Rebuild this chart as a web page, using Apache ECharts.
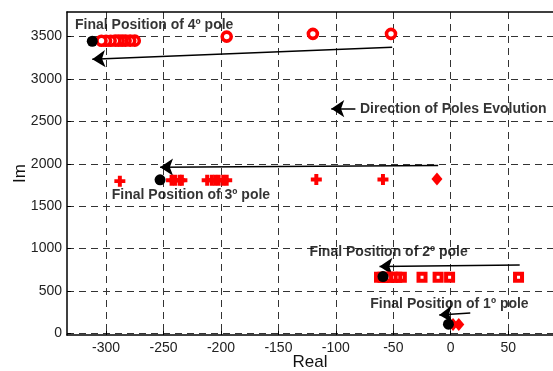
<!DOCTYPE html>
<html>
<head>
<meta charset="utf-8">
<script src="https://cdn.jsdelivr.net/npm/echarts@6/dist/echarts.min.js"></script>
<style>html,body{margin:0;padding:0;background:#fff}#c{width:553px;height:371px}</style>
</head>
<body>
<div id="c"></div>
<script>
// Axis ticks
var xTicks = [-300, -250, -200, -150, -100, -50, 0, 50];
var yTicks = [0, 500, 1000, 1500, 2000, 2500, 3000, 3500];

// Pole 4 (circles)
var pole4Real = [-52, -120, -195, -275, -279, -283, -286, -289, -292, -296, -300, -304];
var pole4Im   = [3532, 3532, 3500, 3452, 3452, 3452, 3452, 3452, 3452, 3450, 3450, 3450];
// Pole 3 (plus)
var pole3Real = [-288, -243, -240, -236, -234, -212, -208, -205, -202, -198, -195, -117, -59];
var pole3Im   = [1795, 1805, 1805, 1805, 1805, 1805, 1805, 1805, 1805, 1805, 1805, 1815, 1815];
var pole3StartReal = [-12];
var pole3StartIm   = [1821];
// Pole 2 (squares)
var pole2Real = [59, -1, -11, -25, -43, -47, -51, -55, -59, -62];
var pole2Im   = [662, 662, 662, 662, 662, 662, 662, 662, 662, 662];
// Pole 1 (diamonds)
var pole1Real = [7, 2];
var pole1Im   = [105, 105];
// Final positions (black)
var finalReal = [-312, -253, -59, -2];
var finalIm   = [3445, 1810, 669, 107];

// Arrows: start -> end
var arrowFromX = [-51, -11, 60, 17, -83];
var arrowFromY = [3374, 1978, 807, 239, 2650];
var arrowToX   = [-312, -253, -62, -10, -104];
var arrowToY   = [3233, 1959, 787, 217, 2650];

// Annotations
var noteTexts = ['Final Position of 4º pole', 'Final Position of 3º pole', 'Final Position of 2º pole', 'Final Position of 1º pole', 'Direction of Poles Evolution'];
var noteX = [-327, -295, -123, -70, -79];
var noteY = [3638, 1633, 952, 347, 2647];

function zip(a, b) { return a.map(function (v, i) { return [v, b[i]]; }); }

var plusPath = 'path://M3.2,0H6.8V3.2H10V6.8H6.8V10H3.2V6.8H0V3.2H3.2Z';
var red = '#ff0000';
var font = '"Liberation Sans", Arial, sans-serif';

var chart = echarts.init(document.getElementById('c'), null, {renderer: 'canvas'});
var gridLine = {show: true, lineStyle: {color: '#333', width: 1, type: [7, 5]}};
var option = {
  animation: false,
  backgroundColor: '#fff',
  grid: {left: 67, right: 0, top: 12, bottom: 36, containLabel: false, outerBoundsMode: 'none'},
  xAxis: [{
    type: 'value', min: -334, max: 89, interval: 50,
    axisLine: {show: true, onZero: false, lineStyle: {color: '#000', width: 1.5}},
    axisTick: {show: true, inside: true, length: 4, customValues: xTicks, lineStyle: {color: '#000'}},
    axisLabel: {color: '#222', fontSize: 14, fontFamily: font, margin: 6, customValues: xTicks},
    splitLine: gridLine,
    name: 'Real', nameLocation: 'middle', nameGap: 19, nameMoveOverlap: false,
    nameTextStyle: {color: '#111', fontSize: 17, fontFamily: font}
  }, {
    type: 'value', position: 'top', min: -334, max: 89, interval: 50,
    axisLine: {show: true, onZero: false, lineStyle: {color: '#000', width: 1.5}},
    axisTick: {show: false}, axisLabel: {show: false}, splitLine: {show: false}
  }],
  yAxis: {
    type: 'value', min: -20, max: 3790,
    axisLine: {show: true, onZero: false, lineStyle: {color: '#000', width: 1.5}},
    axisTick: {show: true, inside: true, length: 4, customValues: yTicks, lineStyle: {color: '#000'}},
    axisLabel: {color: '#222', fontSize: 14, fontFamily: font, margin: 5, customValues: yTicks,
      formatter: function (v) { return String(v); }},
    splitLine: gridLine,
    name: 'Im', nameLocation: 'middle', nameGap: 38, nameRotate: 90, nameMoveOverlap: false,
    nameTextStyle: {color: '#111', fontSize: 17, fontFamily: font}
  },
  series: [
    {type: 'lines', coordinateSystem: 'cartesian2d', z: 3,
      symbol: ['none', 'arrow'], symbolSize: [7, 13],
      lineStyle: {color: '#000', width: 1.5, opacity: 1},
      data: arrowFromX.map(function (x, i) { return {coords: [[x, arrowFromY[i]], [arrowToX[i], arrowToY[i]]]}; })},
    {type: 'scatter', data: zip(pole4Real, pole4Im), symbol: 'circle', symbolSize: 9, z: 4,
      itemStyle: {color: '#fff', borderColor: red, borderWidth: 3.6, opacity: 1}},
    {type: 'scatter', data: zip(pole3Real, pole3Im), symbol: plusPath, symbolSize: 11, z: 4,
      itemStyle: {color: red, opacity: 1}},
    {type: 'scatter', data: zip(pole3StartReal, pole3StartIm), symbol: 'diamond', symbolSize: [11, 13], z: 4,
      itemStyle: {color: red, opacity: 1}},
    {type: 'scatter', data: zip(pole2Real, pole2Im), symbol: 'rect', symbolSize: 7, z: 4,
      itemStyle: {color: '#fff', borderColor: red, borderWidth: 4, opacity: 1}},
    {type: 'scatter', data: zip(pole1Real, pole1Im), symbol: 'diamond', symbolSize: [11, 13], z: 4,
      itemStyle: {color: red, opacity: 1}},
    {type: 'scatter', data: zip(finalReal, finalIm), symbol: 'circle', symbolSize: 11, z: 5,
      itemStyle: {color: '#000', opacity: 1}},
    {type: 'scatter', symbolSize: 0, z: 6, silent: true,
      data: noteTexts.map(function (t, i) { return {name: t, value: [noteX[i], noteY[i]]}; }),
      label: {show: true, position: [0, 0], align: 'left', verticalAlign: 'middle', formatter: '{b}', color: '#000',
        fontSize: 14, fontWeight: 'bold', fontFamily: font}}
  ]
};
chart.setOption(option);
</script>
</body>
</html>
